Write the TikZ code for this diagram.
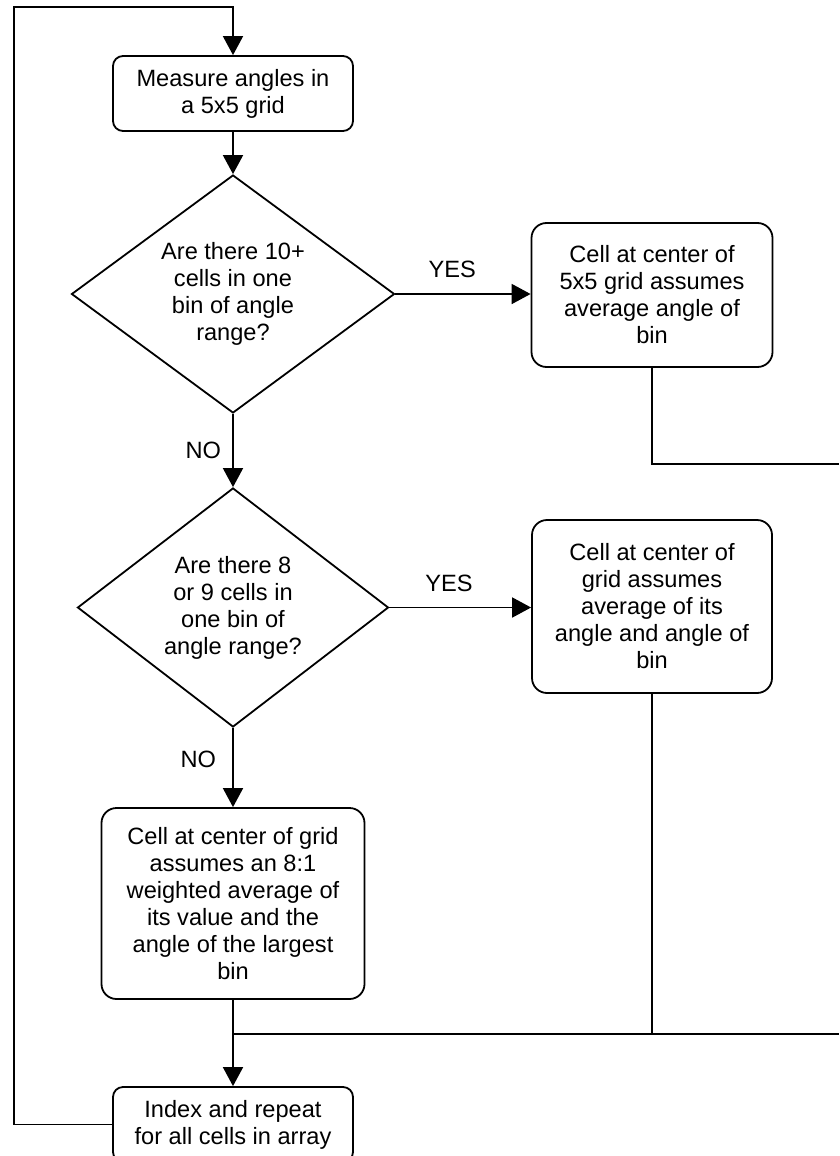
\documentclass[tikz,border=0pt]{standalone}
\usepackage{fontspec}
\setmainfont{Liberation Sans}
\usetikzlibrary{arrows.meta, shapes.geometric, positioning, calc}

\begin{document}
\begin{tikzpicture}[x=1pt, y=-1pt, line width=1.8pt,
	every node/.style={font=\fontsize{23.6}{27}\selectfont, align=center, inner sep=0pt},
	stepbox/.style={draw, rounded corners=10pt, minimum width=240pt, minimum height=75pt},
	bigbox/.style={draw, rounded corners=15pt},
	decision/.style={draw, diamond, inner sep=0pt},
	flow/.style={-{Triangle[width=20pt, length=19pt]}}]
	\useasboundingbox (0,0) rectangle (839,1156);
	\node[stepbox] (measure) at (233,93.5) {Measure angles in\\a 5x5 grid};
	\node[decision, aspect=1.36, minimum width=323pt, minimum height=238pt] (tenplus) at (233,294)
		{Are there 10+\\cells in one\\bin of angle\\range?};
	\node[bigbox, minimum width=241pt, minimum height=144pt] (avgbin) at (652,295)
		{Cell at center of\\5x5 grid assumes\\average angle of\\bin};
	\node[decision, aspect=1.3, minimum width=311pt, minimum height=239pt] (eightnine) at (233,607.5)
		{Are there 8\\or 9 cells in\\one bin of\\angle range?};
	\node[bigbox, minimum width=240pt, minimum height=173pt] (avgown) at (652,606.5)
		{Cell at center of\\grid assumes\\average of its\\angle and angle of\\bin};
	\node[bigbox, minimum width=263pt, minimum height=191pt] (weighted) at (233,903.5)
		{Cell at center of grid\\assumes an 8:1\\weighted average of\\its value and the\\angle of the largest\\bin};
	\node[stepbox] (index) at (233,1124.5) {Index and repeat\\for all cells in array};

	\coordinate (corner) at (14,7);
	\coordinate (exitone) at (839,464);
	\coordinate (exittwo) at (839,1034);
	\coordinate (merge) at (233,1034);

	\draw[flow] (measure) -- (tenplus);
	\draw[flow] (tenplus.east) -- node[pos=0.42, above=15pt] {YES} (avgbin.west |- tenplus.east);
	\draw[flow] (tenplus) -- node[left=11pt] {NO} (eightnine);
	\draw[flow] (eightnine.east) -- node[pos=0.42, above=15pt] {YES} (avgown.west |- eightnine.east);
	\draw[flow] (eightnine) -- node[pos=0.4, left=16pt] {NO} (weighted);
	\draw (avgbin.south) |- (exitone);
	\draw (avgown.south) -- (avgown.south |- merge);
	\draw (merge) -- (exittwo);
	\draw[flow] (weighted) -- (index);
	\draw[flow] (index.west) -| (corner) -| (measure.north);
\end{tikzpicture}
\end{document}
